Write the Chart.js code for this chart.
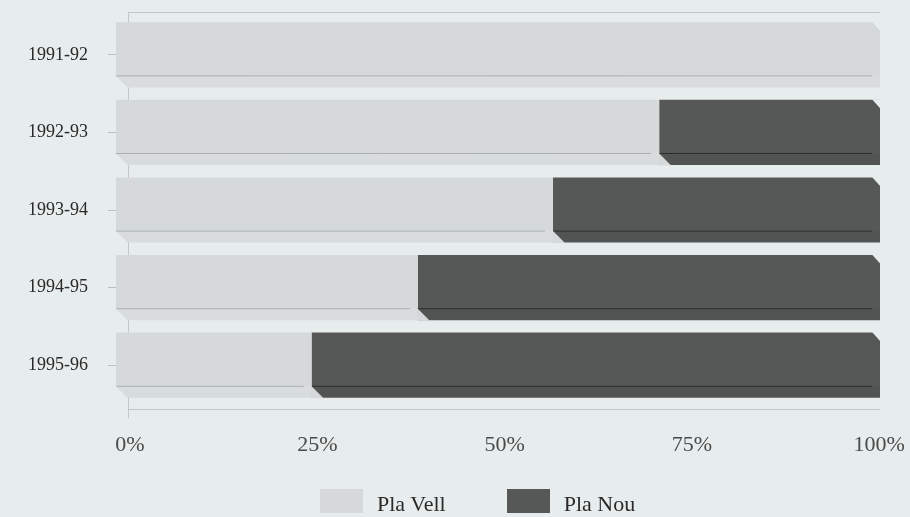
<!DOCTYPE html>
<html><head><meta charset="utf-8">
<script src="https://cdn.jsdelivr.net/npm/chart.js@4"></script>
<style>
html,body{margin:0;padding:0;background:#e7ecec;}
#w{position:relative;width:910px;height:517px;}
#legend{position:absolute;left:320px;top:489px;display:flex;align-items:center;font-family:'Liberation Serif',serif;font-size:22px;color:#2a2a2a;}
#legend .it{display:flex;align-items:center;margin-right:61px;}
#legend .sw{width:43px;height:24px;margin-right:14px;}
#legend .tx{line-height:24px;position:relative;top:3px;}
</style>
</head><body><div id="w"><canvas id="c" width="910" height="517"></canvas><div id="legend"></div></div>
<script>
const categories = ["1991-92","1992-93","1993-94","1994-95","1995-96"];
const plaVell = [100, 71.1, 57.2, 39.5, 25.6];
const plaNou = [0, 28.9, 42.8, 60.5, 74.4];
const xTicks = [0, 25, 50, 75, 100];
const seriesNames = ["Pla Vell", "Pla Nou"];
const seriesColors = ["#d5d9d9", "#565858"];
const bgColor = "#e7ecec";
const gridColor = "#c2c7c7";

const frame3dPlugin = {
  id: 'frame3d',
  beforeDatasetsDraw(chart) {
    const ctx = chart.ctx, a = chart.chartArea;
    ctx.save();
    ctx.strokeStyle = gridColor;
    ctx.lineWidth = 1;
    ctx.beginPath();
    ctx.moveTo(a.left + 12, a.top - 3.5); ctx.lineTo(a.right, a.top - 3.5);
    ctx.moveTo(a.left + 12, a.bottom + 5.5); ctx.lineTo(a.right, a.bottom + 5.5);
    ctx.moveTo(a.left + 12.5, a.top - 3.5); ctx.lineTo(a.left + 12.5, a.bottom + 14);
    ctx.stroke();
    ctx.restore();
  },
  afterDatasetsDraw(chart) {
    const ctx = chart.ctx;
    const n = chart.data.datasets.length;
    const d = 12;
    chart.data.datasets.forEach((ds, i) => {
      const meta = chart.getDatasetMeta(i);
      meta.data.forEach((bar, j) => {
        if (!ds.data[j]) return;
        const p = bar.getProps(['x','y','base','height'], true);
        const left = Math.min(p.x, p.base), right = Math.max(p.x, p.base);
        const top = p.y - p.height/2, bottom = p.y + p.height/2;
        ctx.save();
        // bottom face strip
        ctx.fillStyle = i === 0 ? 'rgba(255,255,255,0.10)' : 'rgba(0,0,0,0.04)';
        ctx.fillRect(left, bottom - d, right - left, d);
        ctx.strokeStyle = i === 0 ? 'rgba(140,146,146,0.6)' : 'rgba(35,35,35,0.8)';
        ctx.lineWidth = 1;
        ctx.beginPath();
        ctx.moveTo(left, bottom - d + 0.5);
        ctx.lineTo(right - 8, bottom - d + 0.5);
        ctx.stroke();
        let last = true;
        for (let k = i + 1; k < n; k++) if (chart.data.datasets[k].data[j]) last = false;
        ctx.fillStyle = bgColor;
        if (last) {
          ctx.beginPath();
          ctx.moveTo(right - 8, top - 0.5);
          ctx.lineTo(right + 0.5, top - 0.5);
          ctx.lineTo(right + 0.5, top + 9);
          ctx.closePath();
          ctx.fill();
        }
        ctx.fillStyle = i === 0 ? bgColor : chart.data.datasets[i - 1].backgroundColor;
        ctx.beginPath();
        ctx.moveTo(left - 0.5, bottom - d);
        ctx.lineTo(left + d, bottom + 0.5);
        ctx.lineTo(left - 0.5, bottom + 0.5);
        ctx.closePath();
        ctx.fill();
        ctx.restore();
      });
    });
  }
};

new Chart(document.getElementById('c'), {
  type: 'bar',
  data: {
    labels: categories,
    datasets: [
      { label: seriesNames[0], data: plaVell, backgroundColor: seriesColors[0], borderWidth: 0, xAxisID: 'x' },
      { label: seriesNames[1], data: plaNou, backgroundColor: seriesColors[1], borderWidth: 0, xAxisID: 'x' }
    ]
  },
  options: {
    indexAxis: 'y',
    responsive: false,
    animation: false,
    devicePixelRatio: 1,
    layout: { padding: { left: 0, right: 30, top: 16, bottom: 0 } },
    plugins: {
      legend: { display: false },
      tooltip: { enabled: false }
    },
    datasets: { bar: { categoryPercentage: 1, barPercentage: 0.84 } },
    scales: {
      x: {
        stacked: true, min: 0, max: 100, display: false
      },
      xl: {
        type: 'linear', position: 'bottom', min: -1.87, max: 100.1,
        afterBuildTicks(s) { s.ticks = xTicks.map(v => ({ value: v })); },
        ticks: { callback: v => v + '%', color: '#4a4a4a', padding: 28,
                 font: { family: 'Liberation Serif', size: 22 } },
        grid: { display: false, drawTicks: false },
        border: { display: false },
        afterFit(s) { s.height = 113; s.paddingLeft = 0; s.paddingRight = 0; }
      },
      y: {
        stacked: true,
        ticks: { color: '#2a2a2a', padding: 20, font: { family: 'Liberation Serif', size: 18 } },
        grid: { offset: false, drawOnChartArea: false, tickLength: 8, color: '#b8bdbd' },
        border: { display: false },
        afterFit(s) { s.width = 116; s.paddingTop = 0; s.paddingBottom = 0; }
      }
    }
  },
  plugins: [frame3dPlugin]
});

const lg = document.getElementById('legend');
seriesNames.forEach((name, i) => {
  const it = document.createElement('div'); it.className = 'it';
  const sw = document.createElement('div'); sw.className = 'sw'; sw.style.background = seriesColors[i];
  const tx = document.createElement('span'); tx.className = 'tx'; tx.textContent = name;
  it.appendChild(sw); it.appendChild(tx); lg.appendChild(it);
});
</script></body></html>
